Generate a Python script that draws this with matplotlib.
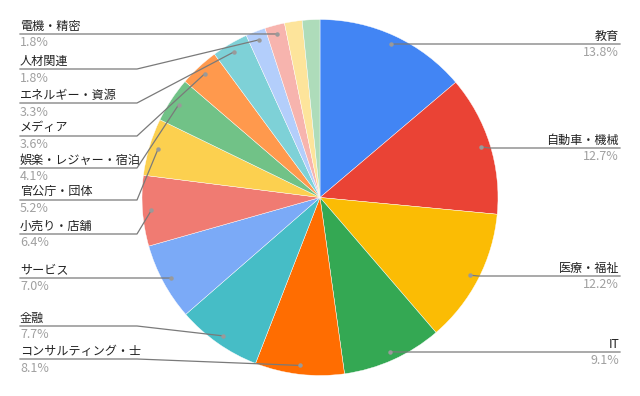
import numpy as np
import matplotlib.pyplot as plt

plt.rcParams['font.family'] = ['Noto Sans CJK JP', 'DejaVu Sans']

# data
industries = ['教育', '自動車・機械', '医療・福祉', 'IT', 'コンサルティング・士', '金融',
              'サービス', '小売り・店舗', '官公庁・団体', '娯楽・レジャー・宿泊', 'メディア',
              'エネルギー・資源', '人材関連', '電機・精密', '', '']
shares = [13.8, 12.7, 12.2, 9.1, 8.1, 7.7, 7.0, 6.4, 5.2, 4.1, 3.6, 3.3, 1.8, 1.8, 1.6, 1.6]
colors = ['#4285F4', '#EA4335', '#FBBC04', '#34A853', '#FF6D01', '#46BDC6', '#7BAAF7',
          '#F07B72', '#FCD04F', '#71C287', '#FF994D', '#7ED1D7', '#B3CEFB', '#F7B4AE',
          '#FDE49B', '#AEDCBA']

# label line heights (pixel rows from top), one per labelled slice
line_rows = [44, 148, 276, 352, 359, 326, 278, 234, 200, 168, 136, 103, 69, 34]

W, H = 640, 396
fig = plt.figure(figsize=(6.4, 3.96), dpi=100)
ax = fig.add_axes([0, 0, 1, 1])
ax.axis('off')

cx, cy, r = 320, H - 197.5, 178
wedges, _ = ax.pie(shares, colors=colors, startangle=90, counterclock=False,
                   center=(cx, cy), radius=r,
                   wedgeprops=dict(edgecolor='white', linewidth=0.3))
ax.set_xlim(0, W)
ax.set_ylim(0, H)
ax.set_aspect('equal')

line_col = '#7a7a7a'
for i, row in enumerate(line_rows):
    w = wedges[i]
    mid = np.deg2rad((w.theta1 + w.theta2) / 2)
    px = cx + 0.95 * r * np.cos(mid)
    py = cy + 0.95 * r * np.sin(mid)
    ly = H - row
    if px > cx:
        ax.plot([px, px + 8, 620], [py, ly, ly], color=line_col, lw=0.9)
        tx, ha = 619, 'right'
    else:
        ax.plot([20, 137, px], [ly, ly, py], color=line_col, lw=0.9)
        tx, ha = 20, 'left'
    ax.plot(px, py, 'o', ms=2.2, color='#9a9a9a')
    ax.text(tx, ly + 1.5, industries[i], ha=ha, va='bottom', fontsize=8.7, color='#222222')
    ax.text(tx, ly - 2.5, f'{shares[i]:.1f}%', ha=ha, va='top', fontsize=9, color='#a0a0a0')

fig.savefig('out.png', dpi=100)
